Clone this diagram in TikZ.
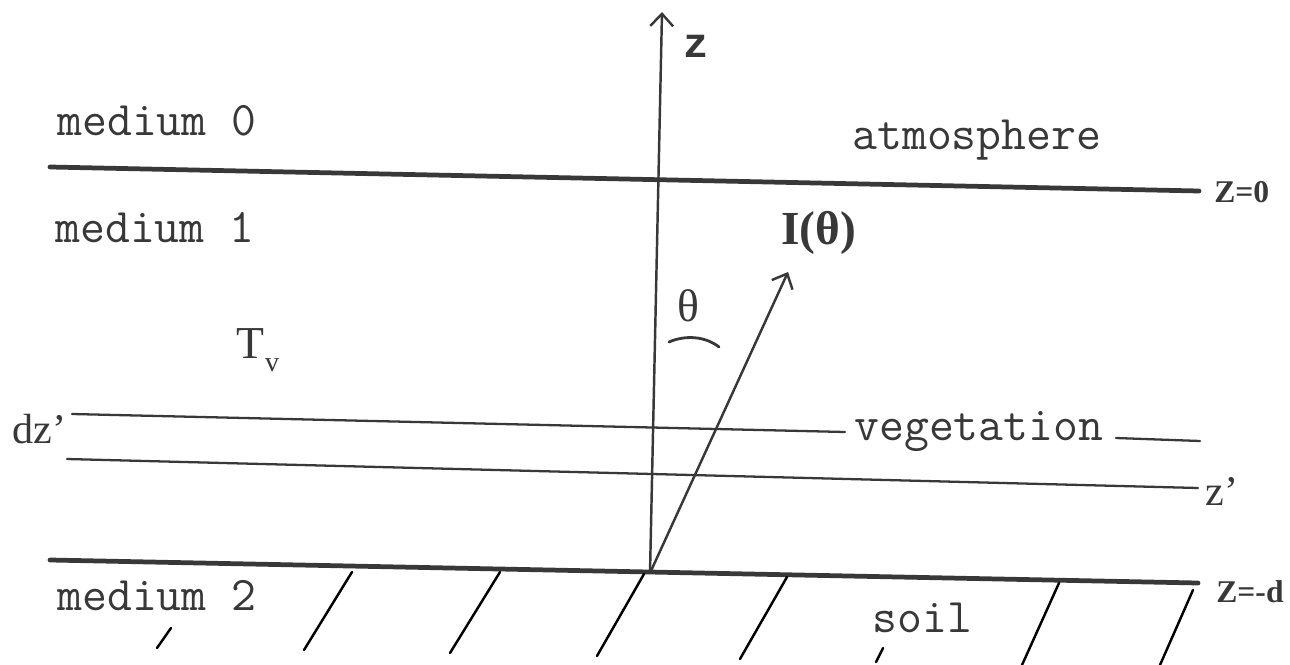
\documentclass[tikz,border=0pt]{standalone}
\usepackage{fontspec}
\setmainfont{Liberation Serif}
\newfontfamily\zmono{Liberation Mono}
\usetikzlibrary{arrows.meta}
\definecolor{ink}{gray}{0.22}
\begin{document}
\begin{tikzpicture}[x=0.02cm,y=-0.02cm,
  thickline/.style={line width=2.7pt, draw=ink, line cap=round},
  thinline/.style={line width=1.3pt, draw=ink, line cap=round},
  hatchline/.style={line width=1.4pt, draw=black, line cap=round},
  arrowline/.style={line width=1.4pt, draw=ink, -{Straight Barb[length=7pt,width=13pt,line width=1.4pt]}},
  mono/.style={font=\fontsize{27.5}{30}\selectfont\ttfamily, text=ink, inner sep=0pt, anchor=base west},
  lab/.style={font=\fontsize{18}{20}\selectfont\bfseries, text=ink, inner sep=0pt, anchor=base west},
  ser/.style={font=\fontsize{24}{28}\selectfont, text=ink, inner sep=0pt, anchor=base west},
]
\useasboundingbox (0,0) rectangle (1290,665);

% boundary lines
\coordinate (t0) at (50,167);   \coordinate (t1) at (1199,191);
\coordinate (b0) at (50,560);   \coordinate (b1) at (1198,583);
\coordinate (v0) at (72,414);   \coordinate (v1) at (845,432);
\coordinate (v2) at (1116,438); \coordinate (v3) at (1200,441);
\coordinate (w0) at (67,459);   \coordinate (w1) at (1198,488);
\coordinate (o) at (650,573);   \coordinate (ztop) at (662,12);
\coordinate (itip) at (788,272);

\draw[thickline] (t0) -- (t1);
\draw[thickline] (b0) -- (b1);
\draw[thinline] (v0) -- (v1);
\draw[thinline] (v2) -- (v3);
\draw[thinline] (w0) -- (w1);

% axis and ray
\draw[arrowline] (o) -- (ztop);
\draw[arrowline] (o) -- (itip);

% theta arc
\coordinate (a0) at (669,342); \coordinate (a1) at (719,347);
\draw[line width=1.6pt, draw=ink, line cap=round] (a0) .. controls (685,335) and (705,336) .. (a1);

% soil hatching
\foreach \xa/\ya/\xb/\yb in {157/648/171/628, 304/650/352/572, 450/653/500/572, 597/656/644/574, 740/659/787/577, 876/662/883/648, 1022/665/1059/583, 1160/665/1193/590}{
  \draw[hatchline] (\xa,\ya) -- (\xb,\yb);
}

% texts
\node[mono] (m0) at (57,136) {medium 0};
\node[mono] (m1) at (55,243) {medium 1};
\node[mono] (m2) at (57,610) {medium 2};
\node[mono] (atm) at (852,150) {atmosphere};
\node[mono] (veg) at (854,440) {vegetation};
\node[mono] (soil) at (872,632) {soil};
\node[mono, font=\fontsize{24}{28}\selectfont\zmono\bfseries] (zl) at (683,58) {z};
\node[lab] (z0) at (1214,203) {Z=0};
\node[lab] (zd) at (1216,602) {Z=-d};
\node[ser, font=\fontsize{27}{30}\selectfont\bfseries] (Ith) at (781,245) {I(θ)};
\node[ser, font=\fontsize{26}{28}\selectfont] (th) at (677,321) {θ};
\node[ser, font=\fontsize{26}{28}\selectfont] (Tv) at (236,358) {T\kern0.5pt\raisebox{-0.3em}{\fontsize{16}{16}\selectfont v}};
\node[ser] (dz) at (12,443) {dz’};
\node[ser] (zp) at (1205,505) {z’};
\end{tikzpicture}
\end{document}
